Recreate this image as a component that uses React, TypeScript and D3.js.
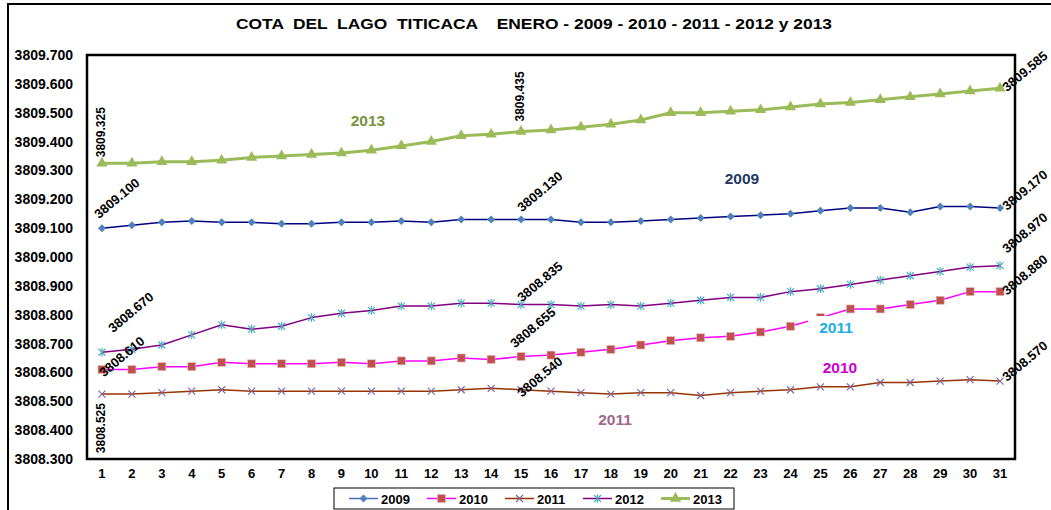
import React from "react";
import * as d3 from "d3";

const days = [1,2,3,4,5,6,7,8,9,10,11,12,13,14,15,16,17,18,19,20,21,22,23,24,25,26,27,28,29,30,31];
const yTicks = [3808.3,3808.4,3808.5,3808.6,3808.7,3808.8,3808.9,3809.0,3809.1,3809.2,3809.3,3809.4,3809.5,3809.6,3809.7];

const s2009 = [3809.100,3809.110,3809.120,3809.125,3809.120,3809.120,3809.115,3809.115,3809.120,3809.120,3809.125,3809.120,3809.130,3809.130,3809.130,3809.130,3809.120,3809.120,3809.125,3809.130,3809.135,3809.140,3809.145,3809.150,3809.160,3809.170,3809.170,3809.155,3809.175,3809.175,3809.170];
const s2010 = [3808.610,3808.610,3808.620,3808.620,3808.635,3808.630,3808.630,3808.630,3808.635,3808.630,3808.640,3808.640,3808.650,3808.645,3808.655,3808.660,3808.670,3808.680,3808.695,3808.710,3808.720,3808.725,3808.740,3808.760,3808.790,3808.820,3808.820,3808.835,3808.850,3808.880,3808.880];
const s2011 = [3808.525,3808.525,3808.530,3808.535,3808.540,3808.535,3808.535,3808.535,3808.535,3808.535,3808.535,3808.535,3808.540,3808.545,3808.540,3808.535,3808.530,3808.525,3808.530,3808.530,3808.520,3808.530,3808.535,3808.540,3808.550,3808.550,3808.565,3808.565,3808.570,3808.575,3808.570];
const s2012 = [3808.670,3808.680,3808.695,3808.730,3808.765,3808.750,3808.760,3808.790,3808.805,3808.815,3808.830,3808.830,3808.840,3808.840,3808.835,3808.835,3808.830,3808.835,3808.830,3808.840,3808.850,3808.860,3808.860,3808.880,3808.890,3808.905,3808.920,3808.935,3808.950,3808.965,3808.970];
const s2013 = [3809.325,3809.325,3809.330,3809.330,3809.335,3809.345,3809.350,3809.355,3809.360,3809.370,3809.385,3809.400,3809.420,3809.425,3809.435,3809.440,3809.450,3809.460,3809.475,3809.500,3809.500,3809.505,3809.510,3809.520,3809.530,3809.535,3809.545,3809.555,3809.565,3809.575,3809.585];

const seriesNames = ["2009", "2010", "2011", "2012", "2013"];
const seriesValues = [s2009, s2010, s2011, s2012, s2013];

const styles = [
  { line: "#000080", lw: 1.5, marker: "diamond", mfill: "#4F81BD" },
  { line: "#FF00FF", lw: 1.5, marker: "square", mfill: "#C0504D" },
  { line: "#993300", lw: 1.5, marker: "x", mfill: "#8064A2" },
  { line: "#800080", lw: 1.5, marker: "star", mfill: "#4BACC6" },
  { line: "#9BBB59", lw: 3, marker: "triangle", mfill: "#9BBB59" },
];

// data-label layout: [seriesIndex, dayIndex, dx, dy, rotation, anchor]
const labelLayout: [number, number, number, number, number, string][] = [
  [4, 0, 3, -6, -90, "start"],
  [4, 14, 3, -10, -90, "start"],
  [4, 30, 7, 4, -40, "start"],
  [0, 0, -3, -9, -40, "start"],
  [0, 14, 1, -7, -40, "start"],
  [0, 30, 7, 3, -40, "start"],
  [3, 0, 11, -19, -40, "start"],
  [3, 14, 1, -2, -40, "start"],
  [3, 30, 7, -12, -40, "start"],
  [1, 0, 2, 8, -40, "start"],
  [1, 14, -6, -8, -40, "start"],
  [1, 30, 7, 4, -40, "start"],
  [2, 0, 3, 9, -90, "end"],
  [2, 14, 1, 8, -40, "start"],
  [2, 30, 7, 1, -40, "start"],
];

const annotations = [
  { text: "2013", x: 368, y: 120, color: "#77933C", bg: false },
  { text: "2009", x: 742, y: 178, color: "#1F3864", bg: false },
  { text: "2011", x: 836, y: 327, color: "#1CADE4", bg: true },
  { text: "2010", x: 840, y: 367, color: "#CC00CC", bg: false },
  { text: "2011", x: 615, y: 419, color: "#A0668C", bg: false },
];

const FONT = "'Liberation Sans', Arial, Helvetica, sans-serif";

function Marker({ type, x, y, fill }: { type: string; x: number; y: number; fill: string }) {
  if (type === "diamond") {
    const r = 4;
    return <path d={`M${x},${y - r}L${x + r},${y}L${x},${y + r}L${x - r},${y}Z`} fill={fill} />;
  }
  if (type === "square") {
    const r = 4;
    return <rect x={x - r} y={y - r} width={2 * r} height={2 * r} fill={fill} stroke="#E6B9B8" strokeWidth={0.6} />;
  }
  if (type === "triangle") {
    return <path d={d3.symbol().type(d3.symbolTriangle).size(54)()!} transform={`translate(${x},${y})`} fill={fill} />;
  }
  if (type === "x") {
    const r = 3.5;
    return <path d={`M${x - r},${y - r}L${x + r},${y + r}M${x - r},${y + r}L${x + r},${y - r}`} stroke={fill} strokeWidth={1.2} fill="none" />;
  }
  const r = 3.5;
  return <path d={`M${x - r},${y - r}L${x + r},${y + r}M${x - r},${y + r}L${x + r},${y - r}M${x},${y - r - 0.8}L${x},${y + r + 0.8}`} stroke={fill} strokeWidth={1.2} fill="none" />;
}

export default function App() {
  const W = 1051, H = 510;
  const left = 87, right = 1015, top = 55, bottom = 459;
  const x = d3.scalePoint<number>().domain(days).range([left, right]).padding(0.5);
  const y = d3.scaleLinear().domain([3808.3, 3809.7]).range([bottom, top]);
  const fmt = d3.format(".3f");
  const line = d3.line<number>().x((_, i) => x(days[i])!).y((d) => y(d));

  const legendX0 = 349, legendStep = 78;

  return (
    <div style={{ position: "absolute", left: 0, top: 0 }}>
      <svg width={W} height={H} style={{ display: "block", fontFamily: FONT }}>
        <rect x={0} y={0} width={W} height={H} fill="#fff" />
        <rect x={8} y={4} width={W + 20} height={H + 20} fill="none" stroke="#000" strokeWidth={2} />
        <text x={534} y={29} textAnchor="middle" fontSize={14} fontWeight="bold" textLength={596} lengthAdjust="spacingAndGlyphs" style={{ whiteSpace: "pre" }}>
          {"COTA  DEL  LAGO  TITICACA    ENERO - 2009 - 2010 - 2011 - 2012 y 2013"}
        </text>

        {yTicks.map((t) => (
          <text key={t} x={73} y={y(t)} textAnchor="end" dominantBaseline="central" fontSize={14} fontWeight="bold">
            {fmt(t)}
          </text>
        ))}
        {days.map((d) => (
          <text key={d} x={x(d)!} y={473} textAnchor="middle" dominantBaseline="central" fontSize={13} fontWeight="bold">
            {d}
          </text>
        ))}

        {seriesValues.map((vals, si) => (
          <g key={seriesNames[si]}>
            <path d={line(vals)!} fill="none" stroke={styles[si].line} strokeWidth={styles[si].lw} strokeLinejoin="round" />
            {vals.map((v, i) => (
              <Marker key={i} type={styles[si].marker} x={x(days[i])!} y={y(v)} fill={styles[si].mfill} />
            ))}
          </g>
        ))}

        <rect x={left} y={top} width={right - left} height={bottom - top} fill="none" stroke="#000" strokeWidth={2.5} />

        {labelLayout.map(([si, di, dx, dy, rot, anchor], k) => {
          const px = x(days[di])! + dx;
          const py = y(seriesValues[si][di]) + dy;
          return (
            <text key={k} x={px} y={py} transform={`rotate(${rot},${px},${py})`} textAnchor={anchor} fontSize={rot === -90 ? 12 : 13} fontWeight="bold">
              {fmt(seriesValues[si][di])}
            </text>
          );
        })}

        {annotations.map((a, k) => (
          <g key={k}>
            {a.bg && <rect x={a.x - 28} y={a.y - 11} width={56} height={24} fill="#fff" />}
            <text x={a.x} y={a.y} textAnchor="middle" dominantBaseline="central" fontSize={15.5} fontWeight="bold" fill={a.color}>
              {a.text}
            </text>
          </g>
        ))}

        <rect x={334} y={488} width={400} height={21} fill="#fff" stroke="#000" strokeWidth={1} />
        {seriesNames.map((n, si) => {
          const lx = legendX0 + si * legendStep;
          return (
            <g key={n}>
              <line x1={lx} x2={lx + 29} y1={498.5} y2={498.5} stroke={styles[si].line === "#000080" ? "#4F6FB0" : styles[si].line} strokeWidth={styles[si].lw} />
              <Marker type={styles[si].marker} x={lx + 14.5} y={498.5} fill={styles[si].mfill} />
              <text x={lx + 32} y={499} dominantBaseline="central" fontSize={13} fontWeight="bold">
                {n}
              </text>
            </g>
          );
        })}
      </svg>
    </div>
  );
}
